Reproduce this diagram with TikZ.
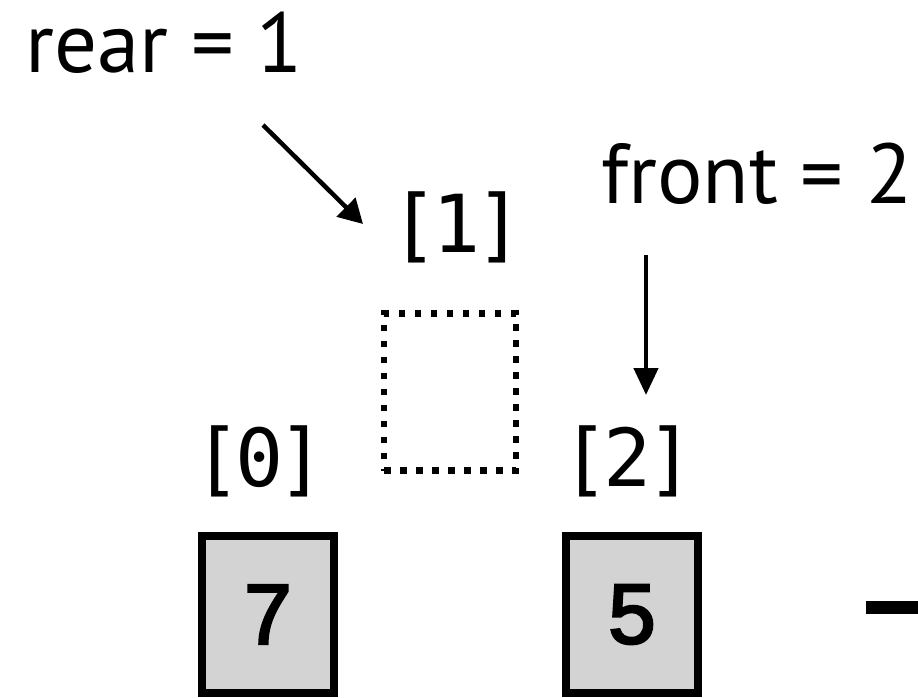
\documentclass[tikz,border=0pt]{standalone}
\usepackage{fontspec}
\setmainfont{PT Sans}
\newfontfamily\monof{DejaVu Sans Mono}
\newfontfamily\numf[FakeBold=3]{Liberation Sans}
\usetikzlibrary{arrows.meta}
\definecolor{cellgray}{HTML}{D3D3D3}
\newcommand{\idxtext}[1]{[\kern-6pt#1\kern-6pt]}
\tikzset{
  varlabel/.style={inner sep=0pt, anchor=base west, font=\fontsize{85}{85}\selectfont},
  idxlabel/.style={inner sep=0pt, anchor=base, font=\monof\fontsize{80}{80}\selectfont},
  cell/.style={draw, line width=8pt, fill=cellgray, minimum width=132pt, minimum height=157pt, inner sep=0pt, font=\numf\fontsize{85}{85}\selectfont},
  emptycell/.style={draw, line width=6.5pt, dash pattern=on 6.5pt off 9.5pt, minimum width=132pt, minimum height=157pt, inner sep=0pt},
  ptr/.style={line width=4.5pt, -{Triangle[length=24pt,width=26pt]}},
  ptrv/.style={line width=4.5pt, -{Triangle[length=27pt,width=24pt]}},
  stub/.style={line width=13pt}
}
\begin{document}
\begin{tikzpicture}[x=1pt,y=-1pt]
\useasboundingbox (0,0) rectangle (918,698);
% variable labels
\node[varlabel] (rear) at (25,73) {rear = 1};
\node[varlabel] (front) at (601,203) {front = 2};
% index labels
\node[idxlabel] (i1) at (457,252) {\idxtext{1}};
\node[idxlabel] (i0) at (259.5,486) {\idxtext{0}};
\node[idxlabel] (i2) at (628,486) {\idxtext{2}};
% cells
\node[cell] (c0) at (268,614.5) {7};
\node[emptycell] (c1) at (450,392) {};
\node[cell] (c2) at (632,614.5) {5};
% pointers
\coordinate (rs) at (263,125);
\coordinate (re) at (363,224);
\draw[ptr] (rs) -- (re);
\coordinate (fs) at (646,255);
\coordinate (fe) at (646,395);
\draw[ptrv] (fs) -- (fe);
% stub at right edge
\coordinate (ss) at (866,607.5);
\coordinate (se) at (918,607.5);
\draw[stub] (ss) -- (se);
\end{tikzpicture}
\end{document}
